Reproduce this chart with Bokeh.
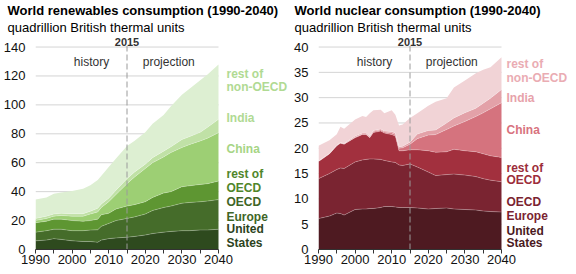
import numpy as np
from bokeh.plotting import figure
from bokeh.models import ColumnDataSource, Label, Title, FixedTicker, Range1d
from bokeh.layouts import row
from bokeh.embed import file_html
from bokeh.resources import INLINE

FONT = "Liberation Sans"

# ---------------- data: renewables (quadrillion Btu, per region) ----------------
ren_years = [1990, 1993, 1995, 1997, 2000, 2003, 2005, 2007, 2008, 2010, 2012, 2015,
             2017, 2020, 2022, 2025, 2027, 2030, 2032, 2035, 2037, 2040]
ren_us = [6, 6.5, 7.5, 7, 6, 5.5, 5.5, 5, 6.5, 7.5, 8, 8.5, 9, 10, 11, 12, 12.5, 13, 13, 13.5, 13.5, 14]
ren_europe = [6, 6.5, 6.5, 7, 7, 7.5, 7.9, 8.6, 9.5, 10.5, 12, 13, 13.5, 14.5, 16, 17, 17.5, 19, 19.5, 19.5, 20, 20.5]
ren_rest_oecd = [6.5, 6.5, 7, 7, 7, 6.5, 6.6, 7.4, 8, 7, 8, 8.5, 8.5, 8.5, 9, 10, 10, 11.4, 11.5, 12, 12, 12.8]
ren_china = [1.5, 2, 2, 2.5, 3, 3.5, 4.5, 5, 5, 8, 10, 15.5, 19, 23, 24, 25, 27, 27.1, 28.5, 30, 31.5, 33.5]
ren_india = [1.5, 1.5, 1.5, 1.5, 1.7, 1.7, 2, 2.5, 2.5, 2.5, 3, 3.5, 3.5, 3, 3.5, 4, 4, 5.5, 5.5, 6, 7.5, 9.2]
ren_rest_non_oecd = [13, 13, 14, 14.5, 15.8, 17.3, 18, 19.5, 19.5, 21.5, 22, 22.5, 21.5, 22, 23.5, 25, 28, 31,
                     33, 36, 36.5, 38]

# ---------------- data: nuclear (quadrillion Btu, per region) ----------------
nuc_years = [1990, 1993, 1995, 1996, 1997, 2000, 2002, 2003, 2004, 2005, 2007, 2008, 2010, 2011, 2012,
             2013, 2015, 2017, 2020, 2022, 2025, 2027, 2030, 2033, 2035, 2037, 2040]
nuc_us = [6.1, 6.6, 7.2, 7.1, 6.8, 7.9, 8.0, 8.0, 8.1, 8.1, 8.3, 8.5, 8.5, 8.4, 8.3, 8.3, 8.3, 8.2, 8.0,
          8.1, 8.2, 8.0, 7.9, 7.8, 7.6, 7.5, 7.4]
nuc_europe = [7.9, 8.4, 8.6, 9.0, 9.2, 9.4, 9.7, 9.8, 9.8, 9.8, 9.5, 9.1, 8.8, 8.8, 8.4, 8.3, 8.6, 8.1,
              7.3, 6.5, 6.6, 6.9, 6.8, 6.6, 6.4, 6.2, 6.0]
nuc_rest_oecd = [3.4, 3.9, 4.7, 4.9, 4.8, 4.8, 5.0, 4.9, 4.2, 5.2, 5.6, 5.4, 5.4, 5.2, 2.8, 2.9, 2.8, 3.4,
                 4.2, 4.6, 4.5, 4.9, 4.8, 4.9, 4.9, 4.8, 4.8]
nuc_china = [0.0, 0.0, 0.05, 0.05, 0.05, 0.1, 0.1, 0.1, 0.1, 0.2, 0.2, 0.2, 0.3, 0.3, 0.5, 0.6, 1.1, 2.2,
             3.1, 3.5, 4.4, 4.6, 5.8, 7.0, 8.1, 9.3, 10.8]
nuc_india = [0.1, 0.1, 0.1, 0.1, 0.1, 0.2, 0.2, 0.2, 0.2, 0.2, 0.2, 0.2, 0.3, 0.3, 0.3, 0.3, 0.4, 0.9,
             0.9, 0.9, 1.3, 1.6, 1.7, 1.6, 1.9, 2.1, 2.6]
nuc_rest_non_oecd = [3.0, 2.6, 2.1, 3.1, 2.9, 3.3, 3.4, 3.2, 4.5, 4.0, 3.8, 3.5, 4.2, 3.6, 4.2, 4.3, 4.8,
                     4.1, 4.9, 5.6, 4.9, 6.0, 6.4, 6.9, 6.6, 6.1, 6.4]

region_keys = ["us", "europe", "rest_oecd", "china", "india", "rest_non_oecd"]
y_ticks_ren = [0, 20, 40, 60, 80, 100, 120, 140]
y_ticks_nuc = [0, 5, 10, 15, 20, 25, 30, 35, 40]
x_major = [1990, 2000, 2010, 2020, 2030, 2040]
x_minor = [1995, 2005, 2015, 2025, 2035]

ren_fill = ["#2e4a1e", "#456c2a", "#5e9632", "#9dcf74", "#c0e1a6", "#ddefd2"]
nuc_fill = ["#4e1a21", "#7a2431", "#a2303e", "#d5737e", "#e3a1a8", "#f1d3d6"]
ren_label_col = ["#2c431c", "#3e6526", "#4f862b", "#a6d585", "#b0da93", "#b0da93"]
nuc_label_col = ["#4a1921", "#7a2331", "#9c2d3b", "#d8737e", "#e7a2aa", "#eaacb3"]

# label lines (text, value at which it sits) and the series each one names
ren_label_lines = [("United", 9.5), ("States", 0.0), ("OECD", 28.5), ("Europe", 18.6),
                   ("rest of", 48.9), ("OECD", 39.0), ("China", 69.2), ("India", 90.6),
                   ("rest of", 121.2), ("non-OECD", 112.2)]
nuc_label_lines = [("United", 2.2), ("States", -0.3), ("OECD", 9.4), ("Europe", 6.7),
                   ("rest of", 16.1), ("OECD", 13.7), ("China", 23.7), ("India", 30.0),
                   ("rest of", 36.6), ("non-OECD", 33.9)]
label_series = [0, 0, 1, 1, 2, 2, 3, 4, 5, 5]
# pixel nudges so the lowest labels stay inside the drawing area
ren_label_nudge = [7, 7, 6, 6, 5, 5, 0, 0, 0, 0]
nuc_label_nudge = [7, 8, 0, 0, 0, 0, 0, 0, 0, 0]

PX_PER_YEAR = 183.0 / 50.0
FRAME_H = 214


def make_chart(title, years, series, fills, label_cols, label_lines, nudges, yticks, ymax,
               frame_w, left_border, label_dx):
    x_end = 1990 + frame_w / PX_PER_YEAR
    p = figure(frame_width=frame_w, frame_height=FRAME_H, output_backend="svg",
               toolbar_location=None,
               x_range=Range1d(1990, x_end), y_range=Range1d(0, ymax * 1.057),
               min_border_left=left_border, min_border_right=0,
               min_border_top=0, min_border_bottom=0)
    p.outline_line_color = None
    p.background_fill_color = "white"
    p.border_fill_color = "white"
    p.xgrid.grid_line_color = None
    p.ygrid.grid_line_color = None

    # gridlines limited to the data span
    p.segment(x0=[1990] * len(yticks), x1=[2040] * len(yticks), y0=yticks, y1=yticks,
              line_color="#d4d4d4", line_width=1)

    data = {"year": years}
    for k, v in zip(region_keys, series):
        data[k] = v
    src = ColumnDataSource(data)
    p.varea_stack(stackers=region_keys, x="year", source=src, color=fills)
    cum = np.cumsum(np.array(series, dtype=float), axis=0)
    for i in range(len(series) - 1):
        p.line(years, cum[i], line_color="white", line_alpha=0.3, line_width=0.8)

    # history / projection divider
    p.segment(x0=[2015], x1=[2015], y0=[0], y1=[ymax * 1.005], line_color="#9a9a9a",
              line_dash="6 3", line_width=1)

    # axes
    p.yaxis.ticker = FixedTicker(ticks=yticks)
    p.yaxis.axis_line_color = None
    p.yaxis.major_tick_line_color = None
    p.yaxis.minor_tick_line_color = None
    p.yaxis.major_label_standoff = 4
    p.yaxis.major_label_text_font = FONT
    p.yaxis.major_label_text_font_size = "13px"
    p.yaxis.major_label_text_color = "#111111"

    p.xaxis.ticker = FixedTicker(ticks=x_major, minor_ticks=x_minor)
    p.xaxis.bounds = (1990, 2040)
    p.xaxis.axis_line_color = "#333333"
    p.xaxis.major_tick_line_color = "#333333"
    p.xaxis.minor_tick_line_color = "#333333"
    p.xaxis.major_tick_in = 0
    p.xaxis.major_tick_out = 4
    p.xaxis.minor_tick_in = 0
    p.xaxis.minor_tick_out = 4
    p.xaxis.major_label_standoff = 1
    p.xaxis.major_label_text_font = FONT
    p.xaxis.major_label_text_font_size = "13px"
    p.xaxis.major_label_text_color = "#111111"

    # titles
    sub = Title(text="quadrillion British thermal units", align="left", text_font=FONT,
                text_font_size="13px", text_font_style="normal", text_color="#000000",
                offset=-left_border, standoff=1)
    p.add_layout(sub, "above")
    p.title.text = title
    p.title.align = "left"
    p.title.text_font = FONT
    p.title.text_font_size = "13px"
    p.title.text_font_style = "bold"
    p.title.text_color = "#000000"
    p.title.offset = -left_border
    p.title.standoff = 0

    # annotations inside chart
    p.add_layout(Label(x=2015, y=ymax, text="2015", text_align="center", text_baseline="bottom",
                       y_offset=1, text_font=FONT, text_font_size="11px", text_font_style="bold",
                       text_color="#333333"))
    p.add_layout(Label(x=2005.3, y=ymax * 0.928, text="history", text_align="center",
                       text_baseline="middle", text_font=FONT, text_font_size="12px",
                       text_color="#333333"))
    p.add_layout(Label(x=2026.4, y=ymax * 0.928, text="projection", text_align="center",
                       text_baseline="middle", text_font=FONT, text_font_size="12px",
                       text_color="#333333"))

    for (txt, yv), si, dy in zip(label_lines, label_series, nudges):
        p.add_layout(Label(x=2040, y=yv, x_offset=label_dx, y_offset=dy, text=txt,
                           text_align="left", text_baseline="middle", text_font=FONT,
                           text_font_size="12px", text_font_style="bold",
                           text_color=label_cols[si]))
    return p


p1 = make_chart("World renewables consumption (1990-2040)", ren_years,
                [ren_us, ren_europe, ren_rest_oecd, ren_china, ren_india, ren_rest_non_oecd],
                ren_fill, ren_label_col, ren_label_lines, ren_label_nudge, y_ticks_ren, 140,
                frame_w=256, left_border=28, label_dx=8)
p2 = make_chart("World nuclear consumption (1990-2040)", nuc_years,
                [nuc_us, nuc_europe, nuc_rest_oecd, nuc_china, nuc_india, nuc_rest_non_oecd],
                nuc_fill, nuc_label_col, nuc_label_lines, nuc_label_nudge, y_ticks_nuc, 40,
                frame_w=252, left_border=24, label_dx=5)

layout = row(p1, p2, spacing=0)
open("out.html", "w").write(file_html(layout, INLINE))
